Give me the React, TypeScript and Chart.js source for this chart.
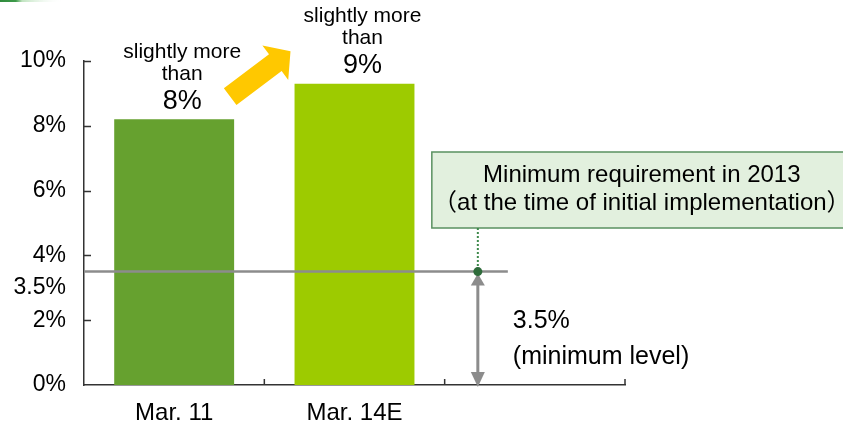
import React, { useEffect, useRef } from "react";
import { Chart, registerables } from "chart.js";

Chart.register(...registerables);

// Capital ratio by fiscal year-end
const categories = ["Mar. 11", "Mar. 14E", ""];
const ratioValues = [8.2, 9.3, null];
const barColors = ["#66A12F", "#9DCB00", "#9DCB00"];
const barCaptions = [
  ["slightly more", "than", "8%"],
  ["slightly more", "than", "9%"],
];
const yMin = 0;
const yMax = 10;
const yStep = 2;
const minimumLevel = 3.5;
const minimumTickLabel = "3.5%";
const requirementLines = ["Minimum requirement in 2013", "（at the time of initial implementation）"];
const minimumLevelLines = ["3.5%", "(minimum level)"];

const FONT = '"Liberation Sans", Arial, "Noto Sans CJK JP", sans-serif';
const AXIS_COLOR = "#333333";
const GUIDE_GRAY = "#8C8C8C";

function font(size: number) {
  return `${size}px ${FONT}`;
}

const overlayPlugin = {
  id: "overlay",
  afterDatasetsDraw(chart: any) {
    const { ctx, chartArea } = chart;
    const x = chart.scales.x;
    const y = chart.scales.y;
    const levelY = y.getPixelForValue(minimumLevel);
    const markerX = x.getPixelForValue(2) - 57;

    ctx.save();
    // minimum level line across the bars
    ctx.strokeStyle = GUIDE_GRAY;
    ctx.lineWidth = 2.5;
    ctx.beginPath();
    ctx.moveTo(chartArea.left, levelY);
    ctx.lineTo(markerX + 30, levelY);
    ctx.stroke();

    // double-headed arrow from the level down to zero
    const baseY = y.getPixelForValue(0);
    const headH = 13;
    const headW = 7;
    ctx.lineWidth = 3;
    ctx.beginPath();
    ctx.moveTo(markerX, levelY + headH);
    ctx.lineTo(markerX, baseY - headH);
    ctx.stroke();
    ctx.fillStyle = GUIDE_GRAY;
    ctx.beginPath();
    ctx.moveTo(markerX, levelY + 2);
    ctx.lineTo(markerX - headW, levelY + headH + 1);
    ctx.lineTo(markerX + headW, levelY + headH + 1);
    ctx.closePath();
    ctx.fill();
    ctx.beginPath();
    ctx.moveTo(markerX, baseY + 2);
    ctx.lineTo(markerX - headW, baseY - headH);
    ctx.lineTo(markerX + headW, baseY - headH);
    ctx.closePath();
    ctx.fill();

    // callout box for the requirement
    const boxLeft = markerX - 46;
    const boxTop = chartArea.top + 91;
    const boxBottom = chartArea.top + 167;
    ctx.fillStyle = "#E2F0DE";
    ctx.strokeStyle = "#5A9160";
    ctx.lineWidth = 1.5;
    ctx.fillRect(boxLeft, boxTop, 500, boxBottom - boxTop);
    ctx.strokeRect(boxLeft, boxTop, 500, boxBottom - boxTop);
    ctx.fillStyle = "#000";
    ctx.font = font(24);
    ctx.textAlign = "center";
    ctx.textBaseline = "middle";
    ctx.fillText(requirementLines[0], boxLeft + 210, boxTop + 23);
    ctx.fillText(requirementLines[1], boxLeft + 210, boxTop + 51);

    // dotted leader from the box to the marker
    ctx.strokeStyle = "#3F8A4C";
    ctx.lineWidth = 2;
    ctx.setLineDash([2, 2]);
    ctx.beginPath();
    ctx.moveTo(markerX, boxBottom);
    ctx.lineTo(markerX, levelY);
    ctx.stroke();
    ctx.setLineDash([]);

    ctx.fillStyle = "#2E6B3A";
    ctx.beginPath();
    ctx.arc(markerX, levelY, 4.5, 0, Math.PI * 2);
    ctx.fill();

    // minimum level note
    ctx.fillStyle = "#000";
    ctx.textAlign = "left";
    ctx.font = font(25);
    ctx.fillText(minimumLevelLines[0], markerX + 35, levelY + 50);
    ctx.fillText(minimumLevelLines[1], markerX + 35, levelY + 86);

    // extra axis label for the level
    ctx.font = font(23);
    ctx.textAlign = "right";
    ctx.fillText(minimumTickLabel, chartArea.left - 18, levelY + 16);

    // captions over the bars
    const meta = chart.getDatasetMeta(0);
    barCaptions.forEach((lines, i) => {
      const bar = meta.data[i];
      if (!bar) return;
      const cx = bar.x + 8;
      const top = bar.y;
      ctx.textAlign = "center";
      ctx.font = font(21);
      ctx.fillText(lines[0], cx, top - 67);
      ctx.fillText(lines[1], cx, top - 45);
      ctx.font = font(27);
      ctx.fillText(lines[2], cx, top - 18);
    });

    // yellow arrow between the two bars
    const tail = { x: x.getPixelForValue(0) + 56, y: y.getPixelForValue(8.9) };
    const tip = { x: x.getPixelForValue(1) - 64, y: y.getPixelForValue(10.3) };
    const dx = tip.x - tail.x;
    const dy = tip.y - tail.y;
    const len = Math.hypot(dx, dy);
    const ux = dx / len;
    const uy = dy / len;
    const nx = -uy;
    const ny = ux;
    const headLen = 19;
    const bx = tip.x - ux * headLen;
    const by = tip.y - uy * headLen;
    const sw = 10.5;
    const hw = 21.5;
    ctx.fillStyle = "#FFC800";
    ctx.beginPath();
    ctx.moveTo(tail.x - nx * sw, tail.y - ny * sw);
    ctx.lineTo(bx - nx * sw, by - ny * sw);
    ctx.lineTo(bx - nx * hw, by - ny * hw);
    ctx.lineTo(tip.x, tip.y);
    ctx.lineTo(bx + nx * hw, by + ny * hw);
    ctx.lineTo(bx + nx * sw, by + ny * sw);
    ctx.lineTo(tail.x + nx * sw, tail.y + ny * sw);
    ctx.closePath();
    ctx.fill();

    ctx.restore();
  },
  afterDraw(chart: any) {
    const { ctx, chartArea } = chart;
    const y = chart.scales.y;
    ctx.save();
    // inward tick marks
    ctx.strokeStyle = AXIS_COLOR;
    ctx.lineWidth = 1.5;
    ctx.beginPath();
    y.ticks.forEach((t: any) => {
      if (t.value <= yMin) return;
      const py = Math.round(y.getPixelForValue(t.value)) + 0.5;
      ctx.moveTo(chartArea.left, py);
      ctx.lineTo(chartArea.left + 7, py);
    });
    const catW = (chartArea.right - chartArea.left) / categories.length;
    for (let k = 1; k <= categories.length; k++) {
      const px = chartArea.left + k * catW;
      ctx.moveTo(px, chartArea.bottom);
      ctx.lineTo(px, chartArea.bottom - 6);
    }
    ctx.stroke();

    // header accent strip
    const g = ctx.createLinearGradient(0, 0, 63, 0);
    g.addColorStop(0, "#2F8A3C");
    g.addColorStop(0.25, "#3E9A4A");
    g.addColorStop(0.35, "#BFE3BF");
    g.addColorStop(1, "rgba(255,255,255,0)");
    ctx.fillStyle = g;
    ctx.fillRect(0, 0, 63, 2);
    ctx.restore();
  },
};

export default function App() {
  const canvasRef = useRef<HTMLCanvasElement | null>(null);

  useEffect(() => {
    const canvas = canvasRef.current;
    if (!canvas) return;
    const chart = new Chart(canvas, {
      type: "bar",
      data: {
        labels: categories,
        datasets: [
          {
            data: ratioValues,
            backgroundColor: barColors,
            categoryPercentage: 1,
            barPercentage: 0.665,
          },
        ],
      },
      options: {
        responsive: false,
        animation: false,
        devicePixelRatio: 1,
        layout: { padding: { top: 61, right: 218, left: 0, bottom: 0 } },
        plugins: {
          legend: { display: false },
          tooltip: { enabled: false },
          title: { display: false },
        },
        scales: {
          x: {
            grid: { display: false, drawTicks: false },
            border: { display: true, color: AXIS_COLOR, width: 1.5 },
            ticks: {
              color: "#000",
              font: { family: FONT, size: 24 },
              padding: 14,
              maxRotation: 0,
              autoSkip: false,
            },
            afterFit(scale: any) {
              scale.height = 39;
            },
          },
          y: {
            min: yMin,
            max: yMax,
            grid: { display: false, drawTicks: false },
            border: { display: true, color: AXIS_COLOR, width: 1.5 },
            ticks: {
              stepSize: yStep,
              color: "#000",
              font: { family: FONT, size: 23 },
              padding: 18,
              callback: (v: any) => `${v}%`,
            },
            afterFit(scale: any) {
              scale.width = 84;
            },
          },
        },
      },
      plugins: [overlayPlugin],
    });
    return () => chart.destroy();
  }, []);

  return (
    <div style={{ position: "absolute", left: 0, top: 0, width: 843, height: 424, background: "#fff" }}>
      <canvas ref={canvasRef} width={843} height={424} />
    </div>
  );
}
